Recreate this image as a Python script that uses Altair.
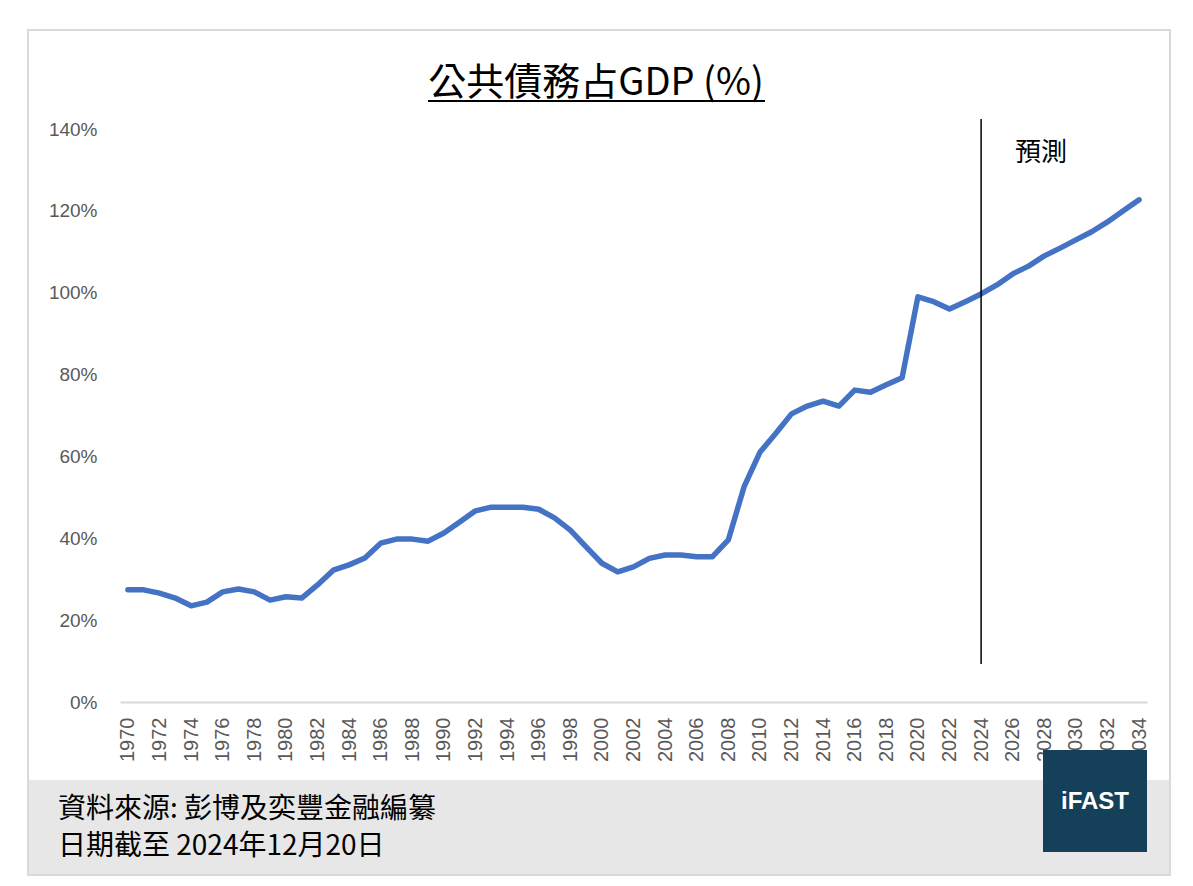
import pandas as pd
import altair as alt

# data
years = list(range(1970, 2035))
debt_pct = [
    27.4, 27.4, 26.6, 25.4, 23.5, 24.4, 26.9, 27.6, 26.9, 24.9,
    25.7, 25.4, 28.6, 32.2, 33.5, 35.2, 38.8, 39.8, 39.8, 39.3,
    41.3, 44.0, 46.7, 47.6, 47.6, 47.6, 47.1, 45.0, 42.0, 37.9,
    33.9, 31.8, 33.0, 35.1, 35.9, 35.9, 35.5, 35.5, 39.6, 52.6,
    61.0, 65.6, 70.4, 72.3, 73.5, 72.3, 76.2, 75.7, 77.5, 79.2,
    99.0, 97.8, 96.0, 97.8, 99.7, 101.9, 104.6, 106.5, 109.0, 110.9,
    112.9, 114.9, 117.3, 120.0, 122.7,
]
forecast_start = [2024]
y_ticks = [0, 20, 40, 60, 80, 100, 120, 140]
x_ticks = list(range(1970, 2035, 2))

title_text = "公共債務占GDP (%)"
forecast_label = "預測"
source_line1 = "資料來源: 彭博及奕豐金融編纂"
source_line2 = "日期截至 2024年12月20日"
logo_text = "iFAST"

df = pd.DataFrame({"year": years, "debt": debt_pct})
one = pd.DataFrame({"k": [0]})

cjk = "Noto Sans CJK TC"
x_scale = alt.Scale(domain=[1969.5, 2034.5], nice=False, zero=False)
y_scale = alt.Scale(domain=[0, 140], nice=False)

x_axis = alt.Axis(values=x_ticks, format="d", labelAngle=-90, labelAlign="right",
                  labelBaseline="middle", labelPadding=15, labelFontSize=20,
                  labelColor="#595959", labelFont="Liberation Sans",
                  domainColor="#d9d9d9", domainWidth=2, ticks=False, grid=False,
                  title=None, labelOverlap=False)
y_axis = alt.Axis(values=y_ticks, labelExpr="datum.value + '%'", labelFontSize=19,
                  labelColor="#595959", labelFont="Liberation Sans", labelPadding=23,
                  domain=False, ticks=False, grid=False, title=None)


def label(text, size, x, y, align="left", baseline="alphabetic", color="black", font=cjk, weight="normal"):
    return alt.Chart(pd.DataFrame({"t": [text]})).mark_text(
        font=font, fontSize=size, align=align, baseline=baseline, color=color, fontWeight=weight
    ).encode(text="t:N", x=alt.value(x), y=alt.value(y))


# outer frame and grey footer band (pixel positions relative to the plot area)
frame = alt.Chart(one).mark_rect(filled=False, stroke="#d9d9d9", strokeWidth=2).encode(
    x=alt.value(-92), x2=alt.value(1050), y=alt.value(-99), y2=alt.value(746)
)
footer = alt.Chart(one).mark_rect(fill="#e7e7e7").encode(
    x=alt.value(-91), x2=alt.value(1049), y=alt.value(651), y2=alt.value(745)
)

line = alt.Chart(df).mark_line(color="#4472C4", strokeWidth=5.5, strokeCap="round", strokeJoin="round").encode(
    x=alt.X("year:Q", scale=x_scale, axis=x_axis),
    y=alt.Y("debt:Q", scale=y_scale, axis=y_axis),
)

rule = alt.Chart(pd.DataFrame({"year": forecast_start})).mark_rule(color="black", strokeWidth=1.5).encode(
    x=alt.X("year:Q", scale=x_scale, axis=x_axis), y=alt.value(-10), y2=alt.value(535)
)

forecast_txt = label(forecast_label, 26, 895, 32)
title = label(title_text, 38, 476, -34, align="center")
underline = alt.Chart(one).mark_rule(color="black", strokeWidth=2).encode(
    x=alt.value(308), x2=alt.value(645), y=alt.value(-28), y2=alt.value(-28)
)
src1 = label(source_line1, 28, -62, 689)
src2 = label(source_line2, 28, -62, 726)

logo_box = alt.Chart(one).mark_rect(fill="#14405a").encode(
    x=alt.value(923), x2=alt.value(1027), y=alt.value(621), y2=alt.value(723)
)
logo = label(logo_text, 24, 975, 673, align="center", baseline="middle", color="white",
             font="Liberation Sans", weight="bold")

chart = alt.layer(
    frame, footer, line, rule, forecast_txt, title, underline, src1, src2, logo_box, logo
).properties(
    width=1027, height=573, autosize="none",
    padding={"left": 112, "top": 121, "right": 38, "bottom": 176},
    background="white",
).configure_view(stroke=None).configure_axisX(labelOverlap=False)

chart.save("out.html", embed_options={"renderer": "svg", "actions": False})
